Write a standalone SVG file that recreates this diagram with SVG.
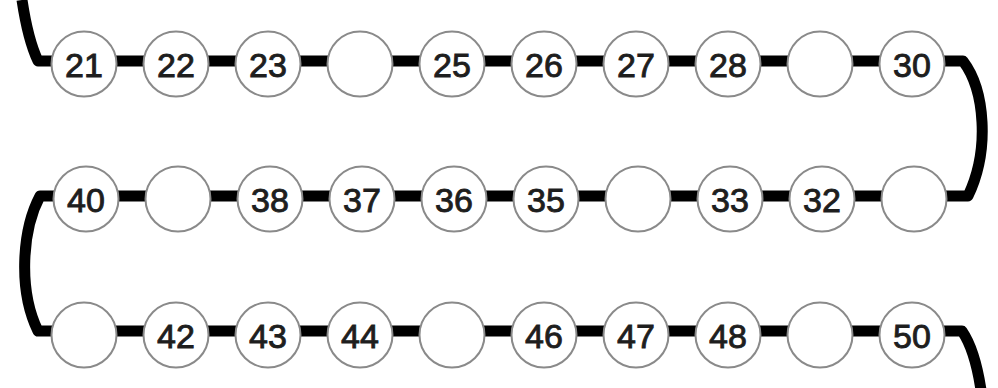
<svg xmlns="http://www.w3.org/2000/svg" width="998" height="388" viewBox="0 0 998 388">
<style>
.c{fill:#fff;stroke:#8a8a8a;stroke-width:2}
.t{font-family:"Liberation Sans",Arial,sans-serif;font-size:34px;fill:#1e1e1e;text-anchor:middle;stroke:#1e1e1e;stroke-width:0.9}
.l{fill:none;stroke:#000;stroke-width:11;stroke-linejoin:round}
</style>
<rect width="998" height="388" fill="#fff"/>
<g id="connectors">
<path class="l" d="M22,0 Q28,40 38,61 L963,61 C985,90 990,150 968,196 L40,196 C22,230 18,290 38,331 L962,331 Q975,350 981,390"/>
</g>
<g id="n21"><circle class="c" cx="84" cy="64" r="32.5"/><text class="t" x="84" y="77">21</text></g>
<g id="n22"><circle class="c" cx="176" cy="64" r="32.5"/><text class="t" x="176" y="77">22</text></g>
<g id="n23"><circle class="c" cx="268" cy="64" r="32.5"/><text class="t" x="268" y="77">23</text></g>
<g id="n24"><circle class="c" cx="360" cy="64" r="32.5"/></g>
<g id="n25"><circle class="c" cx="452" cy="64" r="32.5"/><text class="t" x="452" y="77">25</text></g>
<g id="n26"><circle class="c" cx="544" cy="64" r="32.5"/><text class="t" x="544" y="77">26</text></g>
<g id="n27"><circle class="c" cx="636" cy="64" r="32.5"/><text class="t" x="636" y="77">27</text></g>
<g id="n28"><circle class="c" cx="728" cy="64" r="32.5"/><text class="t" x="728" y="77">28</text></g>
<g id="n29"><circle class="c" cx="820" cy="64" r="32.5"/></g>
<g id="n30"><circle class="c" cx="912" cy="64" r="32.5"/><text class="t" x="912" y="77">30</text></g>

<g id="n40"><circle class="c" cx="86" cy="199" r="32.5"/><text class="t" x="86" y="212">40</text></g>
<g id="n39"><circle class="c" cx="178" cy="199" r="32.5"/></g>
<g id="n38"><circle class="c" cx="270" cy="199" r="32.5"/><text class="t" x="270" y="212">38</text></g>
<g id="n37"><circle class="c" cx="362" cy="199" r="32.5"/><text class="t" x="362" y="212">37</text></g>
<g id="n36"><circle class="c" cx="454" cy="199" r="32.5"/><text class="t" x="454" y="212">36</text></g>
<g id="n35"><circle class="c" cx="546" cy="199" r="32.5"/><text class="t" x="546" y="212">35</text></g>
<g id="n34"><circle class="c" cx="638" cy="199" r="32.5"/></g>
<g id="n33"><circle class="c" cx="730" cy="199" r="32.5"/><text class="t" x="730" y="212">33</text></g>
<g id="n32"><circle class="c" cx="822" cy="199" r="32.5"/><text class="t" x="822" y="212">32</text></g>
<g id="n31"><circle class="c" cx="914" cy="199" r="32.5"/></g>

<g id="n41"><circle class="c" cx="84" cy="335" r="32.5"/></g>
<g id="n42"><circle class="c" cx="176" cy="335" r="32.5"/><text class="t" x="176" y="348">42</text></g>
<g id="n43"><circle class="c" cx="268" cy="335" r="32.5"/><text class="t" x="268" y="348">43</text></g>
<g id="n44"><circle class="c" cx="360" cy="335" r="32.5"/><text class="t" x="360" y="348">44</text></g>
<g id="n45"><circle class="c" cx="452" cy="335" r="32.5"/></g>
<g id="n46"><circle class="c" cx="544" cy="335" r="32.5"/><text class="t" x="544" y="348">46</text></g>
<g id="n47"><circle class="c" cx="636" cy="335" r="32.5"/><text class="t" x="636" y="348">47</text></g>
<g id="n48"><circle class="c" cx="728" cy="335" r="32.5"/><text class="t" x="728" y="348">48</text></g>
<g id="n49"><circle class="c" cx="820" cy="335" r="32.5"/></g>
<g id="n50"><circle class="c" cx="912" cy="335" r="32.5"/><text class="t" x="912" y="348">50</text></g>
</svg>
